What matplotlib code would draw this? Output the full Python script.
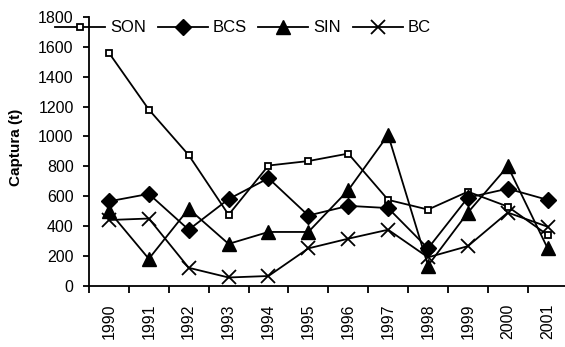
import matplotlib
matplotlib.use("Agg")
import matplotlib.pyplot as plt
import numpy as np

plt.rcParams['font.family'] = ['Liberation Sans', 'DejaVu Sans']

years = ['1990', '1991', '1992', '1993', '1994', '1995', '1996', '1997', '1998', '1999', '2000', '2001']
son = [1560, 1180, 875, 475, 805, 835, 885, 575, 510, 630, 530, 340]
bcs = [565, 615, 375, 580, 720, 470, 535, 520, 250, 590, 650, 575]
sin = [500, 180, 515, 280, 360, 360, 640, 1010, 135, 490, 800, 250]
bc = [440, 450, 120, 55, 65, 250, 315, 375, 190, 265, 490, 395]
yticks = [0, 200, 400, 600, 800, 1000, 1200, 1400, 1600, 1800]

W, H = 565, 347
fig = plt.figure(figsize=(W / 100, H / 100), dpi=100)
ax = fig.add_axes([89 / W, 1 - 285.7 / H, (567.6 - 89) / W, (285.7 - 17) / H])

x = np.arange(len(years))
lw = 1.3
ax.plot(x, son, color='black', lw=lw, marker='s', ms=5, mfc='white', mec='black', mew=1.3, label='SON', clip_on=False)
ax.plot(x, bcs, color='black', lw=lw, marker='D', ms=8, mfc='black', mec='black', label='BCS', clip_on=False)
ax.plot(x, sin, color='black', lw=lw, marker='^', ms=10, mfc='black', mec='black', label='SIN', clip_on=False)
ax.plot(x, bc, color='black', lw=lw, marker='x', ms=10, mew=1.3, label='BC', clip_on=False)

ax.set_xlim(-0.5, len(years) - 0.5)
ax.set_ylim(0, 1800)
ax.set_yticks(yticks)
ax.set_yticklabels([str(v) for v in yticks], fontsize=11.5)
ax.set_xticks(x)
ax.set_xticklabels(years, rotation=90, fontsize=11.5)
ax.set_xticks(np.arange(len(years) + 1) - 0.5, minor=True)
ax.tick_params(axis='x', which='major', length=0, pad=13)
ax.tick_params(axis='x', which='minor', length=5, width=1.3, direction='out')
ax.tick_params(axis='y', length=4, width=1.3, direction='out', pad=7)

for s in ['top', 'right']:
    ax.spines[s].set_visible(False)
for s in ['left', 'bottom']:
    ax.spines[s].set_linewidth(1.3)

ax.set_ylabel('Captura (t)', fontsize=11, fontweight='bold')
ax.yaxis.set_label_coords(-0.138, 0.514)

fig.legend(loc='center left', bbox_to_anchor=(55 / W, 1 - 28 / H), ncol=4, frameon=False,
           fontsize=12, handlelength=3.0, handletextpad=0.3, columnspacing=0.7,
           borderaxespad=0, borderpad=0)

fig.savefig('out.png', dpi=100)
